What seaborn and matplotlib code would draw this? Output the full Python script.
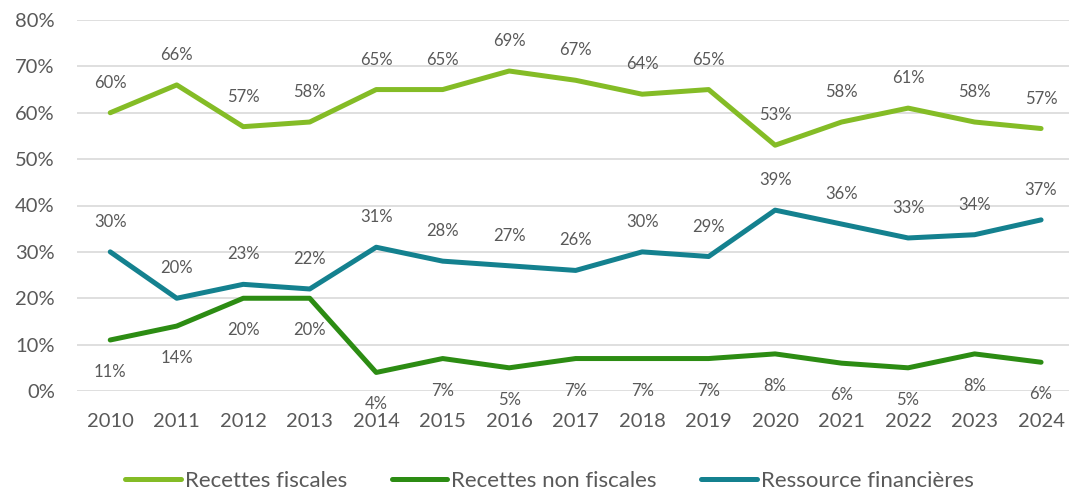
import matplotlib
matplotlib.use("Agg")
import matplotlib.pyplot as plt
import seaborn as sns
import pandas as pd
from matplotlib.ticker import FuncFormatter
from matplotlib.lines import Line2D

years = [str(y) for y in range(2010, 2025)]
recettes_fiscales = [60, 66, 57, 58, 65, 65, 69, 67, 64, 65, 53, 58, 61, 58, 56.6]
recettes_non_fiscales = [11, 14, 20, 20, 4, 7, 5, 7, 7, 7, 8, 6, 5, 8, 6.2]
ressource_financieres = [30, 20, 23, 22, 31, 28, 27, 26, 30, 29, 39, 36, 33, 33.7, 36.9]

series_names = ["Recettes fiscales", "Recettes non fiscales", "Ressource financières"]
colors = ["#84BC26", "#2C8C13", "#14818F"]
label_offsets = [30, -32, 30]

sns.set_theme(style="white")
plt.rcParams['font.family'] = ['Lato', 'DejaVu Sans']

df = pd.DataFrame({
    "x": list(range(len(years))) * 3,
    "value": recettes_fiscales + recettes_non_fiscales + ressource_financieres,
    "serie": [series_names[0]] * 15 + [series_names[1]] * 15 + [series_names[2]] * 15,
})

fig = plt.figure(figsize=(10.69, 4.92), dpi=100)
ax = fig.add_axes([77 / 1069, 1 - 391 / 492, 1 - 77 / 1069, (391 - 20) / 492])

lw = 3.6
sns.lineplot(data=df, x="x", y="value", hue="serie", palette=colors,
             hue_order=series_names, linewidth=lw, ax=ax, legend=False,
             solid_capstyle="round", solid_joinstyle="round")

txtc = "#595959"
for name, vals, off in zip(series_names, [recettes_fiscales, recettes_non_fiscales, ressource_financieres], label_offsets):
    for i, v in enumerate(vals):
        ax.annotate(f"{round(v):d}%", (i, v), xytext=(0, off * 0.72), textcoords="offset points",
                    ha="center", va="center", fontsize=12, color=txtc)

ax.set_xlim(-0.5, 14.42)
ax.set_ylim(0, 80)
ax.set_yticks(range(0, 81, 10))
ax.yaxis.set_major_formatter(FuncFormatter(lambda v, p: f"{int(v)}%"))
ax.set_xticks(range(len(years)))
ax.set_xticklabels(years)
ax.grid(axis="y", color="#D9D9D9", linewidth=1.2)
ax.set_axisbelow(True)
for s in ax.spines.values():
    s.set_visible(False)
ax.tick_params(axis="both", length=0, labelsize=14.5, colors=txtc)
ax.tick_params(axis="x", pad=16)
ax.tick_params(axis="y", pad=16)
ax.set_xlabel("")
ax.set_ylabel("")

handles = [Line2D([0], [0], color=c, lw=lw, solid_capstyle="round") for c in colors]
fig.legend(handles, series_names, loc="center", bbox_to_anchor=(0.514, 0.022), ncol=3,
           frameon=False, fontsize=16, handlelength=2.5, handletextpad=0.18,
           columnspacing=2.0, labelcolor=txtc, borderpad=0)

fig.savefig("out.png", dpi=100)
